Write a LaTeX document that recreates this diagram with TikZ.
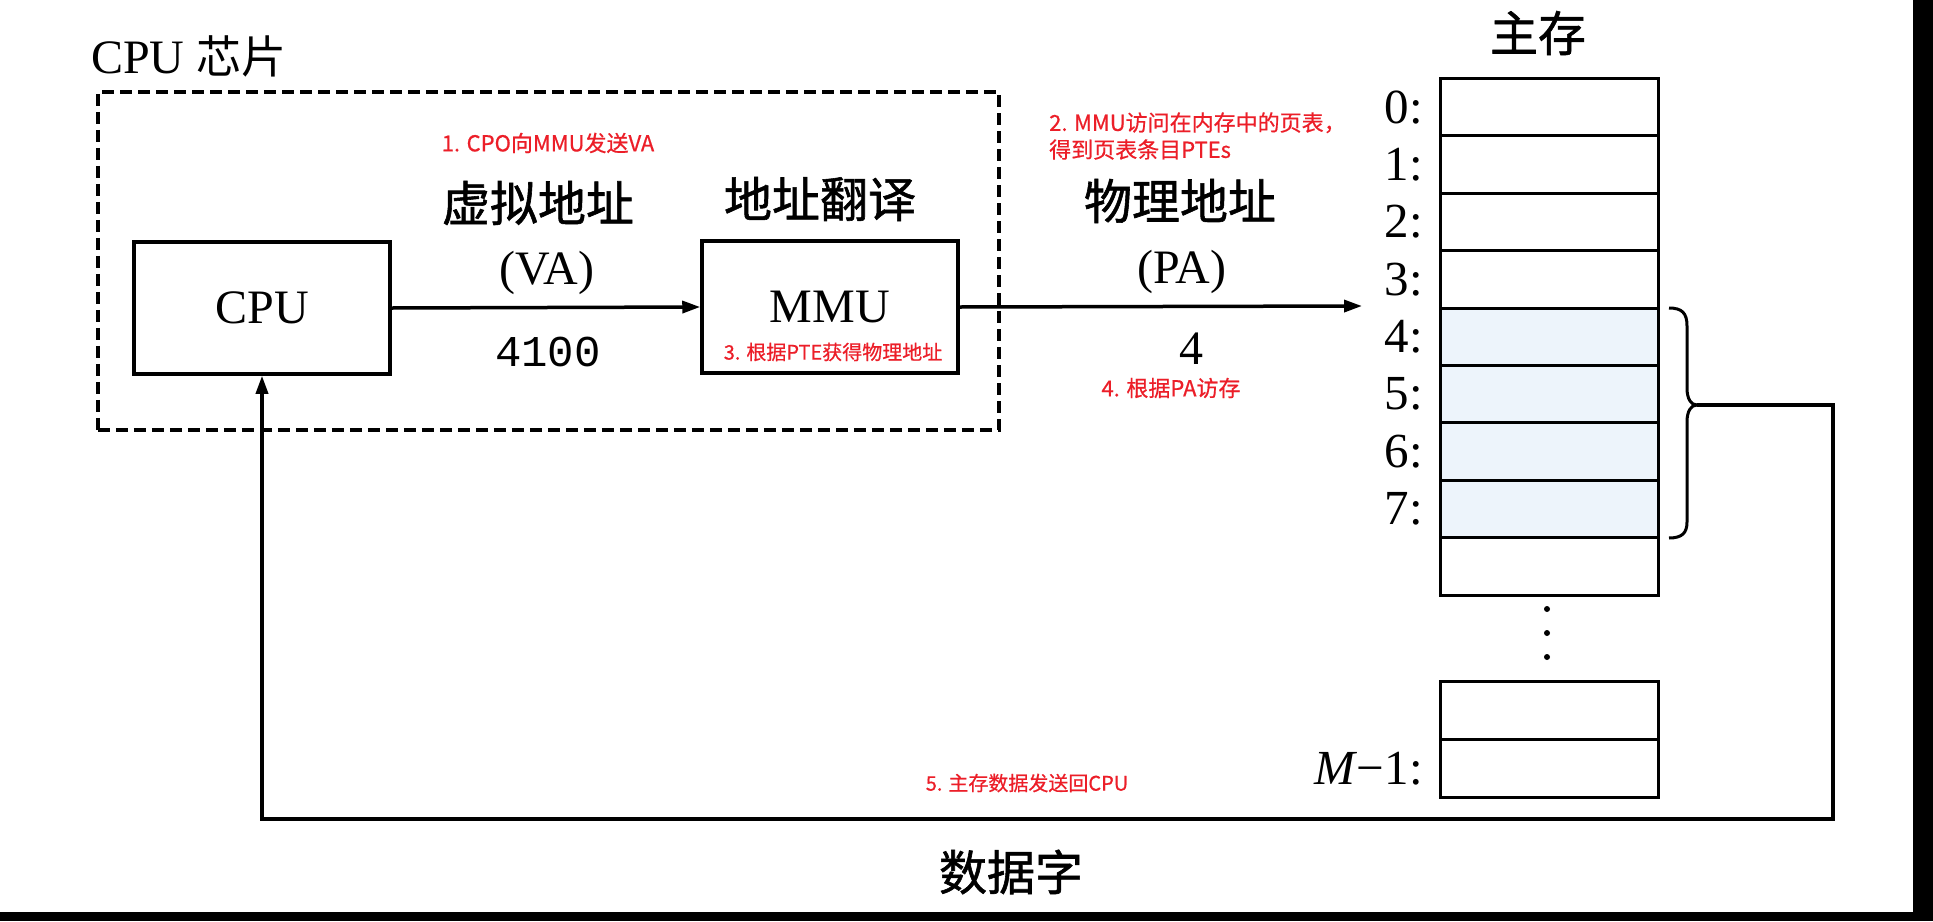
\documentclass[tikz,border=0pt]{standalone}
\usepackage{fontspec}
\setmainfont{Liberation Serif}
\setmonofont{Liberation Mono}
\newfontfamily\cjk{Noto Sans CJK SC}
\newfontfamily\cjkb[FakeBold=1.2]{Noto Sans CJK SC}
\newfontfamily\cjkr[FakeBold=0.6]{Noto Sans CJK SC}
\usetikzlibrary{arrows.meta}
\definecolor{anno}{RGB}{236,30,40}
\definecolor{memblue}{RGB}{237,244,251}
\tikzset{
 box/.style={draw, line width=3.5pt, minimum width=256pt, minimum height=132pt, inner sep=0pt, font=\fontsize{48pt}{50pt}\selectfont},
 big/.style={font=\fontsize{48pt}{50pt}\selectfont, inner sep=0pt},
 mono/.style={font=\ttfamily\fontsize{44pt}{46pt}\selectfont, inner sep=0pt},
 cn/.style={font=\cjkb\fontsize{48pt}{50pt}\selectfont, inner sep=0pt},
 note/.style={text=anno, font=\cjkr\fontsize{22pt}{27pt}\selectfont, inner sep=0pt},
 cell/.style={draw, line width=3pt, minimum width=218pt, minimum height=57.4pt, inner sep=0pt, anchor=north west},
 lbl/.style={font=\fontsize{49pt}{50pt}\selectfont, inner sep=0pt, anchor=east, xshift=-16pt},
 arr/.style={line width=3.5pt, -{Triangle[length=18pt,width=12pt]}},
 wire/.style={line width=3pt},
 chipbox/.style={draw, line width=3.5pt, dash pattern=on 12pt off 6pt, minimum width=901pt, minimum height=338pt, inner sep=0pt, anchor=north west},
}
\begin{document}
\begin{tikzpicture}[x=1pt,y=-1pt]
\useasboundingbox (0,0) rectangle (1933,921);
\fill[white] (0,0) rectangle (1933,921);
\fill[black] (1913,0) rectangle (1933,921);
\fill[black] (0,912) rectangle (1933,921);

% CPU chip
\node[big, anchor=west] (chiplabel) at (91,56) {CPU {\cjk\fontsize{45pt}{50pt}\selectfont 芯片}};
\node[chipbox] (chip) at (96,90) {};
\node[box] (cpu) at (262,308) {CPU};
\node[box] (mmu) at (830,307) {MMU};

\node[note] (n1) at (548,143) {1. CPO向MMU发送VA};
\node[cn] (va1) at (538,203) {虚拟地址};
\node[big] (va2) at (547,273) {(VA)};
\node[mono] (va3) at (548,352) {4100};

\node[cn] (tr) at (820,199) {地址翻译};
\node[note, font=\cjkr\fontsize{20pt}{24pt}\selectfont] (n3) at (833,352) {3. 根据PTE获得物理地址};

\node[note, anchor=west, align=left] (n2) at (1049,136) {2. MMU访问在内存中的页表，\\得到页表条目PTEs};
\node[cn] (pa1) at (1180,201) {物理地址};
\node[big] (pa2) at (1182,272) {(PA)};
\node[big] (pa3) at (1191,349) {4};
\node[note] (n4) at (1171,388) {4. 根据PA访存};

% main memory
\node[cn] (mem) at (1538,33) {主存};
\foreach \i/\f in {0/white,1/white,2/white,3/white,4/memblue,5/memblue,6/memblue,7/memblue,8/white}{
  \node[cell, fill=\f] (m\i) at (1439,{77+57.4*\i}) {};
}
\foreach \i in {0,...,7}{
  \node[lbl] (l\i) at (m\i.west) {\i:};
}
\fill (1547,609) circle (3pt);
\fill (1547,633) circle (3pt);
\fill (1547,657) circle (3pt);
\node[cell, minimum height=57.5pt] (mA) at (1439,680) {};
\node[cell, minimum height=58.5pt] (mB) at (1439,737.5) {};
\node[lbl] (lM) at (mB.west) {{\itshape M}\kern1pt−\kern1pt1:};

% brace
\draw[wire] (1669,308) .. controls (1682,308) and (1687,313) .. (1687,326)
  -- (1687,388) .. controls (1687,399) and (1691,405) .. (1697,405)
  .. controls (1691,405) and (1687,411) .. (1687,422)
  -- (1687,522) .. controls (1687,533) and (1682,538) .. (1669,538);
\coordinate (bt) at (1697,405);
\coordinate (paend) at (1362,306);

% connectors
\draw[arr] (cpu.east) -- (mmu.west);
\draw[arr] (mmu.east) -- (paend);
\draw[arr] (bt) -| (1833,819) -| (cpu.south);

\node[note, font=\cjkr\fontsize{20pt}{24pt}\selectfont] (n5) at (1027,783) {5. 主存数据发送回CPU};
\node[cn] (word) at (1011,872) {数据字};
\end{tikzpicture}
\end{document}
